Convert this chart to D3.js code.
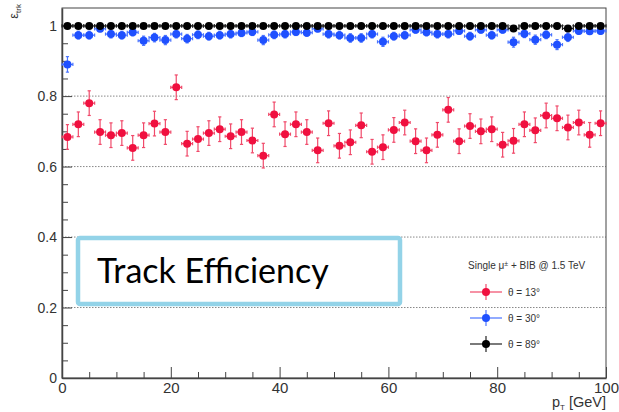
<!DOCTYPE html>
<html>
<head>
<meta charset="utf-8">
<script src="https://cdn.jsdelivr.net/npm/d3@7"></script>
<style>
  body { margin: 0; background: #fff; }
  svg { display: block; }
  .tick text { font-family: "Liberation Sans", Arial, sans-serif; }
</style>
</head>
<body>
<div id="root"></div>
<script>
const w = 619;
const h = 412;
const marginLeft = 62;
const marginRight = 13;
const marginTop = 8;
const marginBottom = 34;

// bin centres in GeV (2 GeV bins)
const ptBins = [1, 3, 5, 7, 9, 11, 13, 15, 17, 19, 21, 23, 25, 27, 29, 31, 33, 35, 37, 39,
  41, 43, 45, 47, 49, 51, 53, 55, 57, 59, 61, 63, 65, 67, 69, 71, 73, 75, 77, 79,
  81, 83, 85, 87, 89, 91, 93, 95, 97, 99];

const effTheta13 = [0.684, 0.720, 0.780, 0.698, 0.689, 0.695, 0.653, 0.689, 0.722, 0.698,
  0.825, 0.665, 0.678, 0.695, 0.706, 0.686, 0.698, 0.674, 0.631, 0.748,
  0.692, 0.720, 0.698, 0.646, 0.723, 0.659, 0.669, 0.717, 0.642, 0.655,
  0.704, 0.725, 0.672, 0.646, 0.690, 0.761, 0.672, 0.715, 0.700, 0.706,
  0.662, 0.673, 0.720, 0.703, 0.745, 0.737, 0.711, 0.725, 0.690, 0.723];
const errTheta13 = 0.035;

const effTheta30 = [0.890, 0.973, 0.973, 0.991, 0.976, 0.973, 0.981, 0.957, 0.966, 0.959,
  0.976, 0.963, 0.974, 0.970, 0.973, 0.976, 0.979, 0.982, 0.959, 0.974,
  0.976, 0.982, 0.980, 0.991, 0.976, 0.973, 0.965, 0.965, 0.976, 0.954,
  0.970, 0.973, 0.988, 0.981, 0.976, 0.976, 0.985, 0.970, 0.988, 0.973,
  0.988, 0.953, 0.977, 0.960, 0.974, 0.946, 0.967, 0.985, 0.984, 0.985];
const errTheta30 = [0.022, 0.011, 0.011, 0.008, 0.011, 0.011, 0.010, 0.013, 0.012, 0.013,
  0.011, 0.012, 0.011, 0.011, 0.011, 0.011, 0.010, 0.010, 0.013, 0.011,
  0.011, 0.010, 0.010, 0.008, 0.011, 0.011, 0.012, 0.012, 0.011, 0.013,
  0.011, 0.011, 0.009, 0.010, 0.011, 0.011, 0.009, 0.011, 0.009, 0.011,
  0.009, 0.014, 0.011, 0.013, 0.011, 0.014, 0.012, 0.009, 0.009, 0.009];

const effTheta89 = [0.999, 0.999, 0.999, 0.999, 0.999, 0.999, 0.999, 0.999, 0.999, 0.999,
  0.999, 0.999, 0.999, 0.999, 0.999, 0.999, 0.999, 0.999, 0.999, 0.999,
  0.999, 0.999, 0.999, 0.999, 0.999, 0.999, 0.999, 0.999, 0.999, 0.999,
  0.999, 0.999, 0.999, 0.999, 0.999, 0.999, 0.999, 0.999, 0.999, 0.999,
  0.999, 0.992, 0.999, 0.999, 0.999, 0.999, 0.992, 0.999, 0.999, 0.999];
const errTheta89 = 0.004;

const yTicks = [0, 0.2, 0.4, 0.6, 0.8, 1];
const xTicks = [0, 20, 40, 60, 80, 100];

const series = [
  { name: "θ = 13°", color: "#f0103f", bar: "#f04a6a", eff: effTheta13, err: () => errTheta13 },
  { name: "θ = 30°", color: "#1f50ff", bar: "#4a74ff", eff: effTheta30, err: (i) => errTheta30[i] },
  { name: "θ = 89°", color: "#000", bar: "#222", eff: effTheta89, err: () => errTheta89 },
];

const svg = d3
  .select("#root")
  .append("svg")
  .attr("width", w)
  .attr("height", h);

const xScale = d3.scaleLinear().domain([0, 100]).range([marginLeft, w - marginRight]);
const yScale = d3.scaleLinear().domain([0, 1.05]).range([h - marginBottom, marginTop]);

// dotted grid on major y ticks
svg
  .append("g")
  .selectAll("line")
  .data(yTicks.filter((d) => d > 0))
  .join("line")
  .attr("x1", xScale(0))
  .attr("x2", xScale(100))
  .attr("y1", (d) => yScale(d))
  .attr("y2", (d) => yScale(d))
  .attr("stroke", "#888")
  .attr("stroke-width", 1)
  .attr("stroke-dasharray", "1.5,1.5");

// frame
svg
  .append("rect")
  .attr("x", xScale(0))
  .attr("y", yScale(1.05))
  .attr("width", xScale(100) - xScale(0))
  .attr("height", yScale(0) - yScale(1.05))
  .attr("fill", "none")
  .attr("stroke", "#444")
  .attr("stroke-width", 1);

// axes, ticks point inward like ROOT
const xAxis = d3
  .axisBottom(xScale)
  .tickValues(d3.range(0, 101, 5))
  .tickSize(0)
  .tickFormat((d) => (xTicks.includes(d) ? d : ""));

const gx = svg
  .append("g")
  .attr("transform", `translate(0,${yScale(0)})`)
  .call(xAxis);
gx.select(".domain").attr("stroke", "#444").attr("stroke-width", 1.5);
gx.selectAll(".tick line")
  .attr("y2", (d) => (xTicks.includes(d) ? -11 : -6))
  .attr("stroke", "#444");
gx.selectAll(".tick text")
  .attr("y", 4)
  .attr("font-size", 15)
  .attr("fill", "#333");

const yAxis = d3
  .axisLeft(yScale)
  .tickValues(d3.range(0, 21).map((i) => i * 0.05))
  .tickSize(0)
  .tickFormat((d) => {
    const major = yTicks.find((t) => Math.abs(t - d) < 1e-6);
    return major === undefined ? "" : d3.format("~g")(major);
  });

const gy = svg
  .append("g")
  .attr("transform", `translate(${xScale(0)},0)`)
  .call(yAxis);
gy.select(".domain").attr("stroke", "#444").attr("stroke-width", 1.5);
gy.selectAll(".tick line")
  .attr("x2", (d) => (yTicks.some((t) => Math.abs(t - d) < 1e-6) ? 10 : 6))
  .attr("stroke", "#444");
gy.selectAll(".tick text")
  .attr("x", -5)
  .attr("font-size", 14)
  .attr("fill", "#333");

// axis titles
svg
  .append("text")
  .attr("x", xScale(100))
  .attr("y", 407)
  .attr("text-anchor", "end")
  .attr("font-family", "Liberation Sans, Arial, sans-serif")
  .attr("font-size", 14.5)
  .attr("fill", "#333")
  .html('p<tspan font-size="8" dy="3">T</tspan><tspan dy="-3"> [GeV]</tspan>');

svg
  .append("text")
  .attr("transform", "translate(18, 4) rotate(-90)")
  .attr("text-anchor", "end")
  .attr("font-family", "Liberation Sans, Arial, sans-serif")
  .attr("font-size", 13)
  .attr("fill", "#333")
  .html('ε<tspan font-size="8" dy="3">trk</tspan>');

// points with error bars
function drawErrPoint(g, cx, cy, x0, x1, y0, y1, s) {
  const cap = 1.6;
  g.append("line").attr("x1", x0).attr("x2", x1).attr("y1", cy).attr("y2", cy);
  g.append("line").attr("x1", cx).attr("x2", cx).attr("y1", y0).attr("y2", y1);
  g.append("line").attr("x1", cx - cap).attr("x2", cx + cap).attr("y1", y0).attr("y2", y0);
  g.append("line").attr("x1", cx - cap).attr("x2", cx + cap).attr("y1", y1).attr("y2", y1);
  g.append("line").attr("x1", x0).attr("x2", x0).attr("y1", cy - cap).attr("y2", cy + cap);
  g.append("line").attr("x1", x1).attr("x2", x1).attr("y1", cy - cap).attr("y2", cy + cap);
  g.append("circle").attr("cx", cx).attr("cy", cy).attr("r", 4).attr("fill", s.color).attr("stroke", "none");
}

series.forEach((s) => {
  const g = svg.append("g").attr("stroke", s.bar).attr("stroke-width", 1.2);
  ptBins.forEach((pt, i) => {
    const e = s.err(i);
    const cx = xScale(pt);
    const cy = yScale(s.eff[i]);
    drawErrPoint(g, cx, cy, xScale(pt - 1), xScale(pt + 1),
      yScale(Math.min(s.eff[i] + e, 1.05)), yScale(s.eff[i] - e), s);
  });
});

// text box
const box = svg.append("g");
box
  .append("rect")
  .attr("x", 78)
  .attr("y", 238)
  .attr("width", 322)
  .attr("height", 66)
  .attr("rx", 2)
  .attr("fill", "#fff")
  .attr("stroke", "#93d3e8")
  .attr("stroke-width", 4.5);
box
  .append("text")
  .attr("x", 97)
  .attr("y", 283)
  .attr("font-family", "Lato, 'Open Sans', sans-serif")
  .attr("font-size", 34)
  .attr("fill", "#000")
  .text("Track Efficiency");

// legend
const legend = svg.append("g").attr("font-family", "Liberation Sans, Arial, sans-serif");
legend
  .append("text")
  .attr("x", 468)
  .attr("y", 269)
  .attr("font-size", 10)
  .attr("fill", "#333")
  .html('Single μ<tspan font-size="7" dy="-3">±</tspan><tspan dy="3"> + BIB @ 1.5 TeV</tspan>');

const legendY = [292, 318, 344];
series.forEach((s, i) => {
  const g = legend.append("g").attr("stroke", s.bar).attr("stroke-width", 1.2);
  const cy = legendY[i];
  g.append("line").attr("x1", 470).attr("x2", 502).attr("y1", cy).attr("y2", cy);
  g.append("line").attr("x1", 486).attr("x2", 486).attr("y1", cy - 8).attr("y2", cy + 8);
  g.append("circle").attr("cx", 486).attr("cy", cy).attr("r", 4).attr("fill", s.color).attr("stroke", "none");
  legend
    .append("text")
    .attr("x", 508)
    .attr("y", cy + 3.5)
    .attr("font-size", 10)
    .attr("fill", "#333")
    .text(s.name);
});
</script>
</body>
</html>
